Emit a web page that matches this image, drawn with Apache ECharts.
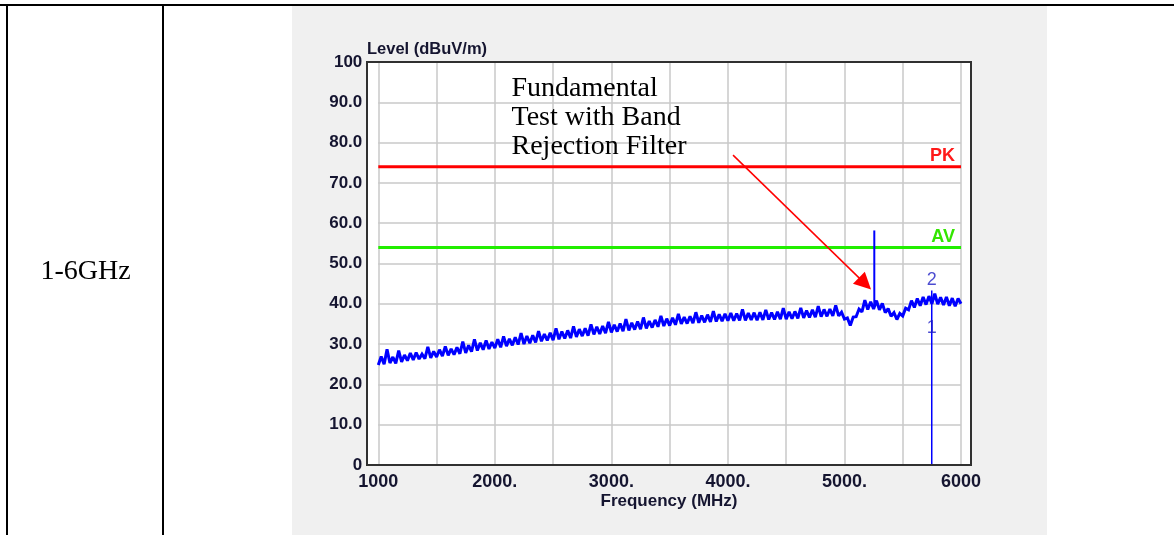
<!DOCTYPE html>
<html><head><meta charset="utf-8">
<script src="https://cdn.jsdelivr.net/npm/echarts@6/dist/echarts.min.js"></script>
<style>
html,body{margin:0;padding:0;background:#fff;}
#wrap{position:relative;width:1174px;height:535px;overflow:hidden;}
.ln{position:absolute;background:#000;}
#panel{position:absolute;left:292px;top:6px;width:755px;height:529px;background:#f0f0f0;}
#plotbg{position:absolute;left:367px;top:62px;width:604px;height:403px;background:#fff;}
#c{position:absolute;left:0;top:0;width:1174px;height:535px;}
</style>
</head><body>
<div id="wrap">
<div id="panel"></div>
<div id="plotbg"></div>
<div class="ln" style="left:0;top:4px;width:1174px;height:2px;"></div>
<div class="ln" style="left:6px;top:4px;width:2px;height:531px;"></div>
<div class="ln" style="left:162px;top:4px;width:2px;height:531px;"></div>
<div id="c"></div>
</div>
<script>
// ---- data ----
const freqStart = 1000;   // MHz
const freqStep = 25;      // MHz
const traceLevels = [
  24.8, 26.9, 25.0, 28.7, 25.3, 26.8, 25.2, 28.4, 25.6, 27.3,
  25.9, 27.8, 26.1, 27.9, 26.3, 27.5, 26.4, 29.3, 26.6, 28.2,
  26.8, 28.6, 27.0, 29.4, 27.2, 28.8, 27.4, 29.2, 27.6, 30.6,
  27.8, 29.7, 28.1, 31.2, 28.4, 30.3, 28.6, 30.9, 28.8, 30.5,
  29.0, 31.2, 29.2, 31.9, 29.5, 31.3, 29.7, 31.7, 29.9, 32.7,
  30.0, 32.0, 30.2, 32.2, 30.4, 33.2, 30.7, 32.5, 30.9, 32.8,
  31.0, 33.9, 31.2, 33.1, 31.4, 33.4, 31.5, 34.4, 31.8, 33.7,
  32.0, 33.9, 32.1, 34.9, 32.4, 34.3, 32.5, 34.5, 32.7, 35.5,
  32.9, 34.8, 33.1, 35.1, 33.2, 36.2, 33.4, 35.3, 33.6, 35.6,
  33.7, 36.6, 33.9, 35.7, 34.1, 36.0, 34.3, 37.0, 34.5, 36.3,
  34.6, 36.5, 34.8, 37.5, 35.0, 36.7, 35.1, 36.9, 35.2, 37.9,
  35.3, 37.1, 35.4, 37.3, 35.5, 38.2, 35.6, 37.4, 35.7, 37.5,
  35.8, 37.7, 35.8, 37.6, 35.9, 38.6, 35.9, 37.7, 36.0, 37.8,
  35.9, 37.9, 36.0, 38.5, 36.1, 37.8, 36.1, 38.0, 36.2, 38.9,
  36.2, 38.0, 36.3, 38.1, 36.4, 39.0, 36.5, 38.3, 36.6, 38.5,
  36.7, 39.4, 36.8, 38.6, 36.9, 38.7, 37.0, 39.6, 37.0, 37.9,
  36.2, 36.5, 34.6, 36.7, 36.8, 38.7, 38.0, 40.9, 38.6, 40.5,
  38.7, 40.8, 38.5, 40.1, 37.8, 38.8, 36.9, 37.8, 36.1, 37.6,
  37.0, 38.9, 38.5, 40.8, 39.1, 41.3, 39.5, 41.7, 39.8, 41.9,
  40.0, 42.5, 39.9, 41.6, 39.7, 41.7, 39.5, 41.4, 39.4, 41.3,
  40.0
];
const fundSpikeFreq = 5256;
const fundSpikeLevels = [39.5, 58.2];
const markerFreq = 5749;
const markerLineLevels = [0, 43.3];
const markerLabels = [['2', 45.9], ['1', 33.9]];
const limitPK = 74;
const limitAV = 54;
const limitSpan = [1000, 6000];
const arrowFrom = [4044, 76.9];
const arrowTo = [5176, 45.0];
const xTickLabels = {1000:'1000', 2000:'2000.', 3000:'3000.', 4000:'4000.', 5000:'5000.', 6000:'6000'};
const yTickLabels = {0:'0', 10:'10.0', 20:'20.0', 30:'30.0', 40:'40.0', 50:'50.0', 60:'60.0', 70:'70.0', 80:'80.0', 90:'90.0', 100:'100'};
const annotationLines = ['Fundamental', 'Test with Band', 'Rejection Filter'];

// ---- chart ----
const sans = '"Liberation Sans", Arial, sans-serif';
const serif = '"Liberation Serif", "Times New Roman", serif';
const labelColor = '#151530';
const gridColor = '#c8c8c8';

const traceData = traceLevels.map((v, i) => [freqStart + i * freqStep, v]);

const chart = echarts.init(document.getElementById('c'), null, {renderer: 'canvas', width: 1174, height: 535});

const graphics = [
  {type: 'rect', z: 100, silent: true, shape: {x: 367, y: 62, width: 604, height: 403},
   style: {fill: 'none', stroke: '#303030', lineWidth: 2}},
  {type: 'text', z: 100, style: {text: 'Level (dBuV/m)', x: 367, y: 49.5, font: 'bold 16.5px ' + sans, fill: labelColor, textAlign: 'left', textVerticalAlign: 'middle'}},
  {type: 'text', z: 100, style: {text: 'Frequency (MHz)', x: 669, y: 501, font: 'bold 17px ' + sans, fill: labelColor, textAlign: 'center', textVerticalAlign: 'middle'}},
  {type: 'text', z: 100, style: {text: 'PK', x: 955, y: 156.5, font: 'bold 18px ' + sans, fill: '#ff1a1a', textAlign: 'right', textVerticalAlign: 'middle'}},
  {type: 'text', z: 100, style: {text: 'AV', x: 955, y: 237, font: 'bold 18px ' + sans, fill: '#33e600', textAlign: 'right', textVerticalAlign: 'middle'}},
  {type: 'text', z: 100, style: {text: '1-6GHz', x: 85.5, y: 272, font: '28px ' + serif, fill: '#000', textAlign: 'center', textVerticalAlign: 'middle'}}
];
annotationLines.forEach((t, i) => {
  graphics.push({type: 'text', z: 100, style: {text: t, x: 511.5, y: 89 + i * 28.7, font: '28px ' + serif, fill: '#000', textAlign: 'left', textVerticalAlign: 'middle'}});
});

const option = {
  backgroundColor: 'transparent',
  animation: false,
  grid: {left: 378.3, top: 62, width: 582.7, height: 403, containLabel: false},
  xAxis: {
    type: 'value', min: 1000, max: 6000, interval: 500,
    axisLine: {show: false}, axisTick: {show: false},
    splitLine: {show: true, lineStyle: {color: gridColor, width: 1.5}},
    axisLabel: {margin: 8, color: labelColor, fontFamily: sans, fontSize: 18, fontWeight: 'bold',
      showMinLabel: true, showMaxLabel: true, formatter: v => xTickLabels[v] || ''}
  },
  yAxis: {
    type: 'value', min: 0, max: 100, interval: 10,
    axisLine: {show: false}, axisTick: {show: false},
    splitLine: {show: true, lineStyle: {color: gridColor, width: 1.5}},
    axisLabel: {margin: 16, color: labelColor, fontFamily: sans, fontSize: 17, fontWeight: 'bold',
      showMinLabel: true, showMaxLabel: true, formatter: v => yTickLabels[v] || ''}
  },
  series: [
    {type: 'line', name: 'PK', silent: true, showSymbol: false, z: 3,
     data: limitSpan.map(f => [f, limitPK]), lineStyle: {color: '#ff0000', width: 3}},
    {type: 'line', name: 'AV', silent: true, showSymbol: false, z: 3,
     data: limitSpan.map(f => [f, limitAV]), lineStyle: {color: '#22ee00', width: 3}},
    {type: 'line', name: 'trace', silent: true, showSymbol: false, z: 4,
     data: traceData, lineStyle: {color: '#0000ff', width: 3, join: 'miter', miterLimit: 2},
     markLine: {silent: true, symbol: ['none', 'triangle'], symbolSize: 17,
       label: {show: false},
       lineStyle: {color: '#ff0000', width: 1.5, type: 'solid'},
       data: [[{coord: arrowFrom}, {coord: arrowTo}]]}},
    {type: 'line', name: 'fundamental', silent: true, showSymbol: false, z: 4,
     data: fundSpikeLevels.map(v => [fundSpikeFreq, v]), lineStyle: {color: '#0000ff', width: 2}},
    {type: 'line', name: 'marker', silent: true, showSymbol: false, z: 4,
     data: markerLineLevels.map(v => [markerFreq, v]), lineStyle: {color: '#0000ff', width: 1.5}},
    {type: 'scatter', name: 'markerLabels', silent: true, symbolSize: 0, z: 5,
     data: markerLabels.map(m => [markerFreq, m[1], m[0]]),
     label: {show: true, position: 'inside', formatter: p => p.value[2], color: '#1e1ec4', fontFamily: sans, fontSize: 18}}
  ],
  graphic: {elements: graphics}
};
chart.setOption(option);
</script>
</body></html>
